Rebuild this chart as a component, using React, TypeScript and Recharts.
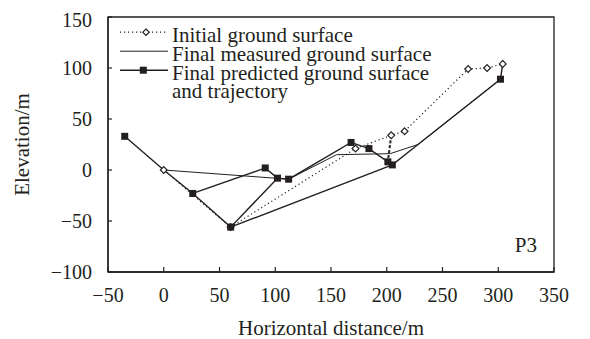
import {
  ComposedChart,
  Line,
  XAxis,
  YAxis,
  Legend,
  ReferenceArea,
} from "recharts";

const FONT = "'Liberation Serif', 'Times New Roman', serif";
const INK = "#231f20";

// profile P3 (x = horizontal distance, y = elevation)
const initialSurface = [
  { x: 0, y: 0 },
  { x: 60, y: -56 },
  { x: 172, y: 21 },
  { x: 204, y: 34 },
  { x: 216, y: 38 },
  { x: 273, y: 99 },
  { x: 290, y: 100 },
  { x: 304, y: 104 },
];

const measuredSurface = [
  { x: 0, y: 0 },
  { x: 112, y: -9 },
  { x: 155, y: 15 },
  { x: 203, y: 16 },
  { x: 228, y: 25 },
  { x: 302, y: 89 },
];

const predictedSurface = [
  { x: -35, y: 33 },
  { x: 0, y: 0 },
  { x: 26, y: -23 },
  { x: 60, y: -56 },
  { x: 102, y: -8 },
  { x: 112, y: -9 },
  { x: 168, y: 27 },
  { x: 184, y: 21 },
  { x: 201, y: 8 },
  { x: 205, y: 5 },
  { x: 228, y: 25 },
  { x: 302, y: 89 },
];

const predictedBranch = [
  { x: 26, y: -23 },
  { x: 91, y: 2 },
  { x: 102, y: -8 },
];

const trajectoryLow = [
  { x: 60, y: -56 },
  { x: 205, y: 5 },
];

const trajectoryTop = [
  { x: 302, y: 89 },
  { x: 304, y: 104 },
];

const trajectoryDashed = [
  { x: 204, y: 34 },
  { x: 201, y: 8 },
];

const predictedBlocks = [
  { x: -35, y: 33 },
  { x: 26, y: -23 },
  { x: 60, y: -56 },
  { x: 91, y: 2 },
  { x: 102, y: -8 },
  { x: 112, y: -9 },
  { x: 168, y: 27 },
  { x: 184, y: 21 },
  { x: 201, y: 8 },
  { x: 205, y: 5 },
  { x: 302, y: 89 },
];

const xTicks = [-50, 0, 50, 100, 150, 200, 250, 300, 350];
const yTicks = [-100, -50, 0, 50, 100, 150];

const legendRows = [
  { label: "Initial ground surface", icon: "initial" },
  { label: "Final measured ground surface", icon: "measured" },
  { label: "Final predicted ground surface", icon: "predicted" },
  { label: "and trajectory", icon: "none" },
];

const fmt = (v: number) => String(v).replace("-", "\u2212");

const Square = (props: any) => {
  const { cx, cy, index } = props;
  if (cx == null || cy == null) return <g key={`s-${index}`} />;
  return (
    <rect key={`s-${index}`} x={cx - 3.5} y={cy - 3.5} width={7} height={7} fill={INK} />
  );
};

const Diamond = (props: any) => {
  const { cx, cy, index } = props;
  if (cx == null || cy == null) return <g key={`d-${index}`} />;
  const r = 3.4;
  return (
    <polygon
      key={`d-${index}`}
      points={`${cx},${cy - r} ${cx + r},${cy} ${cx},${cy + r} ${cx - r},${cy}`}
      fill="#fff"
      stroke={INK}
      strokeWidth={1.2}
    />
  );
};

const LegendIcon = ({ kind }: { kind: string }) => {
  const ly = 6.2;
  return (
    <svg width={48} height={19} style={{ display: "block", flex: "none" }}>
      {kind === "initial" && (
        <>
          <line x1={0} y1={ly} x2={48} y2={ly} stroke={INK} strokeWidth={1.2} strokeDasharray="1.2 2.8" />
          <polygon points={`26,${ly - 3.2} 29.2,${ly} 26,${ly + 3.2} 22.8,${ly}`} fill="#fff" stroke={INK} strokeWidth={1.2} />
        </>
      )}
      {kind === "measured" && (
        <line x1={0} y1={ly} x2={48} y2={ly} stroke={INK} strokeWidth={1} />
      )}
      {kind === "predicted" && (
        <>
          <line x1={0} y1={ly} x2={48} y2={ly} stroke={INK} strokeWidth={1.4} />
          <rect x={19.8} y={ly - 3.5} width={7} height={7} fill={INK} />
        </>
      )}
    </svg>
  );
};

const renderLegend = () => (
  <div style={{ fontFamily: FONT, fontSize: 21, lineHeight: "18.8px", color: INK, whiteSpace: "nowrap" }}>
    {legendRows.map((row) => (
      <div key={row.label} style={{ display: "flex", height: 18.8 }}>
        <LegendIcon kind={row.icon} />
        <span style={{ marginLeft: 4 }}>{row.label}</span>
      </div>
    ))}
  </div>
);

const renderXLabel = (props: any) => {
  const vb = props.viewBox;
  return (
    <text x={vb.x + vb.width / 2} y={327} textAnchor="middle" fill={INK} fontSize={21} fontFamily={FONT}>
      Horizontal distance/m
    </text>
  );
};

const renderYLabel = (props: any) => {
  const vb = props.viewBox;
  const cy = vb.y + vb.height / 2;
  return (
    <text
      x={21}
      y={cy}
      transform={`rotate(-90, 21, ${cy})`}
      textAnchor="middle"
      fill={INK}
      fontSize={21}
      fontFamily={FONT}
    >
      Elevation/m
    </text>
  );
};

const renderPanelTag = (props: any) => {
  const vb = props.viewBox;
  return (
    <text x={vb.x + vb.width - 17} y={vb.y + vb.height - 20} textAnchor="end" fill={INK} fontSize={21} fontFamily={FONT}>
      P3
    </text>
  );
};

export default function App() {
  const tickStyle = { fill: INK, fontSize: 20, fontFamily: FONT };
  return (
    <ComposedChart
      width={582}
      height={331}
      margin={{ top: 9, right: 36, bottom: 0, left: 0 }}
    >
      <XAxis
        type="number"
        dataKey="x"
        domain={[-50, 350]}
        ticks={xTicks}
        tickFormatter={fmt}
        height={67}
        tick={tickStyle}
        tickSize={-5}
        tickMargin={21}
        axisLine={{ stroke: INK, strokeWidth: 1.3 }}
        tickLine={{ stroke: INK, strokeWidth: 1.2 }}
        label={{ content: renderXLabel }}
      />
      <YAxis
        type="number"
        dataKey="y"
        domain={[-100, 150]}
        ticks={yTicks}
        tickFormatter={fmt}
        width={100}
        tick={tickStyle}
        tickSize={-4}
        tickMargin={20}
        axisLine={{ stroke: INK, strokeWidth: 1.3 }}
        tickLine={{ stroke: INK, strokeWidth: 1.2 }}
        label={{ content: renderYLabel }}
      />
      <ReferenceArea
        x1={-50}
        x2={350}
        y1={-100}
        y2={150}
        fill="none"
        fillOpacity={0}
        stroke={INK}
        strokeWidth={1.3}
        label={{ content: renderPanelTag }}
      />
      <Legend
        layout="vertical"
        align="center"
        verticalAlign="middle"
        content={renderLegend}
        wrapperStyle={{ left: 112, top: 18, width: "auto" }}
      />
      <Line data={predictedSurface} dataKey="y" stroke={INK} strokeWidth={1.4} dot={false} activeDot={false} isAnimationActive={false} legendType="none" />
      <Line data={predictedBranch} dataKey="y" stroke={INK} strokeWidth={1.4} dot={false} activeDot={false} isAnimationActive={false} legendType="none" />
      <Line data={trajectoryLow} dataKey="y" stroke={INK} strokeWidth={1.4} dot={false} activeDot={false} isAnimationActive={false} legendType="none" />
      <Line data={trajectoryTop} dataKey="y" stroke={INK} strokeWidth={1.4} dot={false} activeDot={false} isAnimationActive={false} legendType="none" />
      <Line data={measuredSurface} dataKey="y" stroke={INK} strokeWidth={1} dot={false} activeDot={false} isAnimationActive={false} legendType="none" />
      <Line data={trajectoryDashed} dataKey="y" stroke={INK} strokeWidth={2} strokeDasharray="3 2" dot={false} activeDot={false} isAnimationActive={false} legendType="none" />
      <Line data={initialSurface} dataKey="y" stroke={INK} strokeWidth={1.2} strokeDasharray="1.2 2.8" dot={Diamond} activeDot={false} isAnimationActive={false} legendType="none" />
      <Line data={predictedBlocks} dataKey="y" stroke="none" dot={Square} activeDot={false} isAnimationActive={false} legendType="none" />
    </ComposedChart>
  );
}
